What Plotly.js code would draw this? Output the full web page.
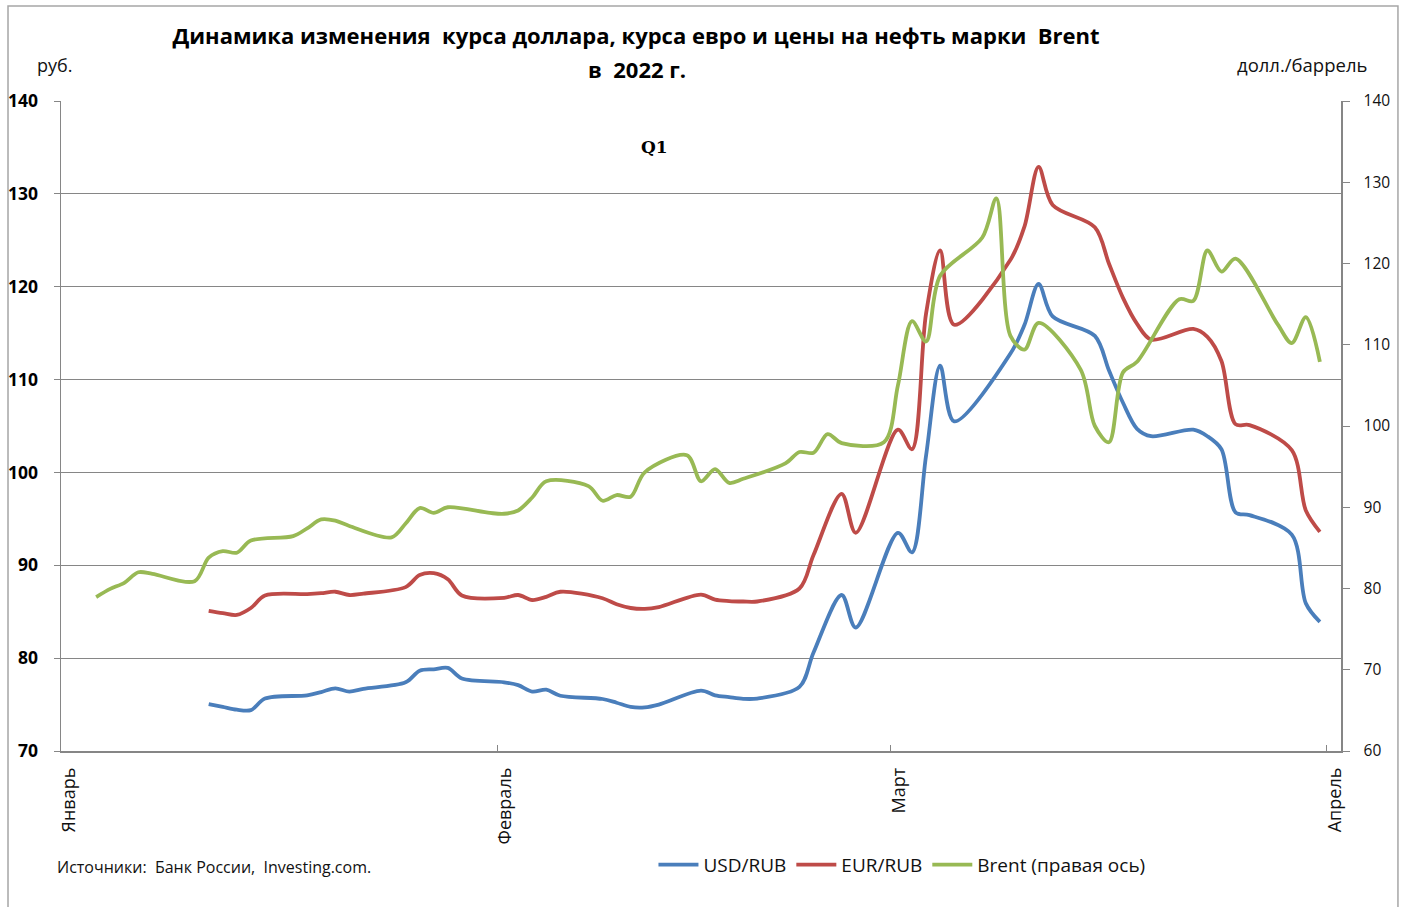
<!DOCTYPE html>
<html>
<head>
<meta charset="utf-8">
<script src="https://cdn.plot.ly/plotly-3.0.1.min.js"></script>
<style>
    body { margin: 0; background: #fff; }
    #chart { width: 1404px; height: 907px; }
</style>
</head>
<body>
<div id="chart"></div>
<script>
// CBR official rates (by effective date), rub.
const rubDates = [
    '2022-01-11', '2022-01-12', '2022-01-13', '2022-01-14', '2022-01-15',
    '2022-01-18', '2022-01-19', '2022-01-20', '2022-01-21', '2022-01-22',
    '2022-01-25', '2022-01-26', '2022-01-27', '2022-01-28', '2022-01-29',
    '2022-02-01', '2022-02-02', '2022-02-03', '2022-02-04', '2022-02-05',
    '2022-02-08', '2022-02-09', '2022-02-10', '2022-02-11', '2022-02-12',
    '2022-02-15', '2022-02-16', '2022-02-17', '2022-02-18', '2022-02-19',
    '2022-02-22', '2022-02-23', '2022-02-25', '2022-02-26',
    '2022-03-01', '2022-03-02', '2022-03-03', '2022-03-04', '2022-03-05',
    '2022-03-09', '2022-03-10', '2022-03-11', '2022-03-12',
    '2022-03-15', '2022-03-16', '2022-03-17', '2022-03-18', '2022-03-19',
    '2022-03-22', '2022-03-23', '2022-03-24', '2022-03-25', '2022-03-26',
    '2022-03-29', '2022-03-30', '2022-03-31'
];

const usdRub = [
    75.05, 74.75, 74.45, 74.4, 75.65,
    76.0, 76.35, 76.75, 76.4, 76.7,
    77.4, 78.65, 78.8, 78.95, 77.8,
    77.4, 77.1, 76.4, 76.6, 75.95,
    75.6, 75.2, 74.75, 74.7, 75.0,
    76.5, 76.0, 75.8, 75.62, 75.65,
    76.9, 80.6, 86.8, 83.3,
    93.5, 91.4, 101.8, 111.5, 105.5,
    112.8, 115.9, 120.3, 116.8,
    114.7, 111.0, 107.5, 104.7, 103.9,
    104.6, 103.9, 102.5, 95.7, 95.4,
    93.3, 85.9, 83.9
];

const eurRub = [
    85.1, 84.85, 84.65, 85.4, 86.75,
    86.9, 87.0, 87.15, 86.8, 86.95,
    87.65, 88.95, 89.15, 88.5, 86.75,
    86.5, 86.8, 86.26, 86.6, 87.15,
    86.45, 85.8, 85.4, 85.3, 85.5,
    86.85, 86.3, 86.15, 86.1, 86.1,
    87.5, 91.1, 97.7, 93.5,
    104.6, 102.5, 117.1, 123.9, 115.9,
    122.9, 126.5, 132.9, 128.8,
    126.4, 122.5, 118.8, 116.0, 114.3,
    115.45, 114.6, 112.0, 105.2, 105.1,
    102.4, 95.9, 93.6
];

// Brent, USD per barrel (trading days)
const brentDates = [
    '2022-01-03', '2022-01-04', '2022-01-05', '2022-01-06', '2022-01-07',
    '2022-01-10', '2022-01-11', '2022-01-12', '2022-01-13', '2022-01-14',
    '2022-01-17', '2022-01-18', '2022-01-19', '2022-01-20', '2022-01-21',
    '2022-01-24', '2022-01-25', '2022-01-26', '2022-01-27', '2022-01-28',
    '2022-01-31', '2022-02-01', '2022-02-02', '2022-02-03', '2022-02-04',
    '2022-02-07', '2022-02-08', '2022-02-09', '2022-02-10', '2022-02-11',
    '2022-02-14', '2022-02-15', '2022-02-16', '2022-02-17', '2022-02-18',
    '2022-02-21', '2022-02-22', '2022-02-23', '2022-02-24', '2022-02-25',
    '2022-02-28', '2022-03-01', '2022-03-02', '2022-03-03', '2022-03-04',
    '2022-03-07', '2022-03-08', '2022-03-09', '2022-03-10', '2022-03-11',
    '2022-03-14', '2022-03-15', '2022-03-16', '2022-03-17', '2022-03-18',
    '2022-03-21', '2022-03-22', '2022-03-23', '2022-03-24', '2022-03-25',
    '2022-03-28', '2022-03-29', '2022-03-30', '2022-03-31'
];

const brent = [
    78.95, 79.95, 80.7, 82.0, 81.8,
    80.9, 83.8, 84.6, 84.4, 85.9,
    86.45, 87.4, 88.5, 88.35, 87.7,
    86.3, 88.0, 89.9, 89.3, 90.0,
    89.3, 89.2, 89.6, 91.2, 93.2,
    92.6, 90.8, 91.5, 91.3, 94.3,
    96.4, 93.2, 94.7, 93.0, 93.5,
    95.4, 96.8, 96.7, 99.0, 97.9,
    98.0, 105.0, 112.9, 110.4, 118.5,
    123.2, 128.0, 111.1, 109.4, 112.7,
    106.9, 100.0, 98.0, 106.6, 107.9,
    115.6, 115.4, 121.6, 119.0, 120.6,
    112.5, 110.2, 113.4, 107.9
];

// month ticks (Excel puts the month boundary half a day before the point)
const monthTicks = ['2021-12-31 12:00', '2022-01-31 12:00', '2022-02-28 12:00', '2022-03-31 12:00'];
const monthNames = ['Январь', 'Февраль', 'Март', 'Апрель'];

const FONT = 'Open Sans, Noto Sans, sans-serif';
const GREY = '#868686';

var usdTrace = {
    x: rubDates,
    y: usdRub,
    type: 'scatter',
    mode: 'lines',
    name: 'USD/RUB',
    line: {color: '#4A7EBB', width: 3.8, shape: 'spline', smoothing: 0.9}
};

var eurTrace = {
    x: rubDates,
    y: eurRub,
    type: 'scatter',
    mode: 'lines',
    name: 'EUR/RUB',
    line: {color: '#BE4B48', width: 3.8, shape: 'spline', smoothing: 0.9}
};

var brentTrace = {
    x: brentDates,
    y: brent,
    type: 'scatter',
    mode: 'lines',
    yaxis: 'y2',
    name: 'Brent (правая ось)',
    line: {color: '#98B954', width: 3.8, shape: 'spline', smoothing: 0.9}
};

var data = [usdTrace, eurTrace, brentTrace];

var layout = {
    width: 1404,
    height: 907,
    margin: {l: 61, r: 63, t: 101, b: 156},
    paper_bgcolor: '#ffffff',
    plot_bgcolor: '#ffffff',
    font: {family: FONT, color: '#111111'},
    showlegend: true,
    title: {
        text: '<b>Динамика изменения  курса доллара, курса евро и цены на нефть марки  Brent</b>',
        font: {size: 22, family: FONT, color: '#000000'},
        xref: 'container',
        x: 0.453,
        xanchor: 'center',
        yref: 'container',
        y: 0.960,
        yanchor: 'middle'
    },
    xaxis: {
        type: 'date',
        range: ['2021-12-31 12:00', '2022-04-01 12:00'],
        tickmode: 'array',
        tickvals: monthTicks,
        ticktext: monthNames,
        tickangle: -90,
        ticks: 'inside',
        ticklen: 6,
        tickcolor: GREY,
        ticklabelshift: 8,
        ticklabelstandoff: 8,
        tickfont: {size: 18, family: FONT, color: '#111111'},
        showgrid: false,
        showline: true,
        linecolor: GREY,
        linewidth: 1.5,
        zeroline: false,
        fixedrange: true
    },
    yaxis: {
        range: [70, 140],
        dtick: 10,
        ticks: 'outside',
        ticklen: 6,
        tickcolor: GREY,
        ticklabelstandoff: 12,
        tickfont: {size: 17.5, family: FONT, color: '#000000', weight: 'bold'},
        showgrid: true,
        gridcolor: GREY,
        gridwidth: 1.2,
        showline: true,
        linecolor: GREY,
        linewidth: 1.5,
        zeroline: false
    },
    yaxis2: {
        range: [60, 140],
        dtick: 10,
        overlaying: 'y',
        side: 'right',
        ticks: 'outside',
        ticklen: 7,
        tickcolor: GREY,
        ticklabelstandoff: 11,
        tickfont: {size: 15.5, family: FONT, color: '#111111'},
        showgrid: false,
        showline: true,
        linecolor: GREY,
        linewidth: 1.5,
        zeroline: false
    },
    legend: {
        orientation: 'h',
        x: 0.657,
        xanchor: 'center',
        y: -0.175,
        yanchor: 'middle',
        font: {size: 19, family: FONT, color: '#111111'},
        itemwidth: 40,
        tracegroupgap: 0,
        bgcolor: 'rgba(0,0,0,0)'
    },
    annotations: [
        {
            text: '<b>в  2022 г.</b>',
            xref: 'paper', yref: 'paper',
            x: 0.45, y: 1.049,
            xanchor: 'center', yanchor: 'middle',
            showarrow: false,
            font: {size: 22, family: FONT, color: '#000000'}
        },
        {
            text: 'руб.',
            xref: 'paper', yref: 'paper',
            x: -0.0047, y: 1.0554,
            xanchor: 'center', yanchor: 'middle',
            showarrow: false,
            font: {size: 18, family: FONT}
        },
        {
            text: 'долл./баррель',
            xref: 'paper', yref: 'paper',
            x: 0.9695, y: 1.0554,
            xanchor: 'center', yanchor: 'middle',
            showarrow: false,
            font: {size: 18.5, family: FONT}
        },
        {
            text: '<b>Q1</b>',
            xref: 'paper', yref: 'paper',
            x: 0.464, y: 0.929,
            xanchor: 'center', yanchor: 'middle',
            showarrow: false,
            font: {size: 17, family: 'DejaVu Serif, Liberation Serif, serif', color: '#000000'}
        },
        {
            text: 'Источники:\u00a0 Банк России,\u00a0 Investing.com.',
            xref: 'paper', yref: 'paper',
            x: -0.0047, y: -0.1785,
            xanchor: 'left', yanchor: 'middle',
            showarrow: false,
            font: {size: 16, family: FONT}
        }
    ],
    shapes: [
        {
            // outer frame of the chart
            type: 'rect',
            xref: 'paper', yref: 'paper',
            x0: -0.0414, x1: 1.0445,
            y0: -0.26, y1: 1.146,
            line: {color: '#a6a6a6', width: 1.5},
            fillcolor: 'rgba(0,0,0,0)',
            layer: 'below'
        }
    ]
};

Plotly.newPlot('chart', data, layout, {displayModeBar: false, staticPlot: true});
</script>
</body>
</html>
